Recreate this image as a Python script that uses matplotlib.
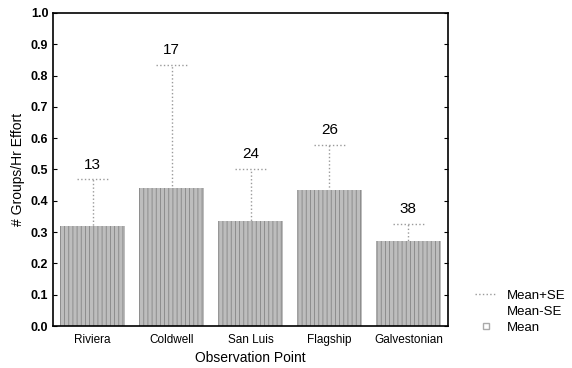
import matplotlib
matplotlib.use("Agg")
import matplotlib.pyplot as plt
from matplotlib.lines import Line2D

plt.rcParams['font.family'] = ['Liberation Sans', 'DejaVu Sans']
plt.rcParams['hatch.linewidth'] = 0.6

# observation sites and their group rates
sites = ["Riviera", "Coldwell", "San Luis", "Flagship", "Galvestonian"]
mean_rate = [0.318, 0.441, 0.337, 0.434, 0.270]
mean_plus_se = [0.468, 0.835, 0.502, 0.578, 0.325]
n_obs = [13, 17, 24, 26, 38]

fig = plt.figure(figsize=(5.72, 3.68), dpi=100)
ax = fig.add_axes([0.093, 0.114, 0.69, 0.851])

x = list(range(len(sites)))

# bars for the mean, halftone-ish grey
ax.bar(x, mean_rate, width=0.82, color="#bdbdbd", edgecolor="#858585",
       hatch="||||", linewidth=0, zorder=2)

# dotted SE whiskers (lower half sits behind the bar)
for xi, m, hi, n in zip(x, mean_rate, mean_plus_se, n_obs):
    lo = m - (hi - m)
    ax.vlines(xi, lo, hi, colors="#9a9a9a", linestyles=":", linewidth=1.0, zorder=1)
    ax.hlines([hi], xi - 0.2, xi + 0.2, colors="#9a9a9a", linestyles=":",
              linewidth=1.0, zorder=3)
    ax.text(xi, hi + 0.025, str(n), ha="center", va="bottom", fontsize=11)

ax.set_xlim(-0.5, 4.5)
ax.set_ylim(0, 1.0)
ax.set_yticks([i / 10 for i in range(11)])
ax.set_yticklabels(["%.1f" % (i / 10) for i in range(11)], fontweight="bold", fontsize=9)
ax.set_xticks(x)
ax.set_xticklabels(sites, fontsize=8.5)
ax.tick_params(axis="x", length=0, pad=6)
ax.tick_params(axis="y", direction="in", length=3, right=True)

ax.set_xlabel("Observation Point", fontsize=10, labelpad=3)
ax.set_ylabel("# Groups/Hr Effort", fontsize=10, labelpad=4)

for sp in ax.spines.values():
    sp.set_linewidth(1.2)

# legend outside the plot on the right
handles = [
    Line2D([], [], color="#9a9a9a", linestyle=":", linewidth=1.0),
    Line2D([], [], color="none"),
    Line2D([], [], marker="s", color="none", markeredgecolor="#aaaaaa",
           markerfacecolor="white", markersize=4),
]
leg = fig.legend(handles, ["Mean+SE", "Mean-SE", "Mean"], loc="lower left",
                 bbox_to_anchor=(0.81, 0.06), frameon=False, fontsize=9.5,
                 handlelength=1.6, labelspacing=0.3)

fig.savefig("out.png", dpi=100)
